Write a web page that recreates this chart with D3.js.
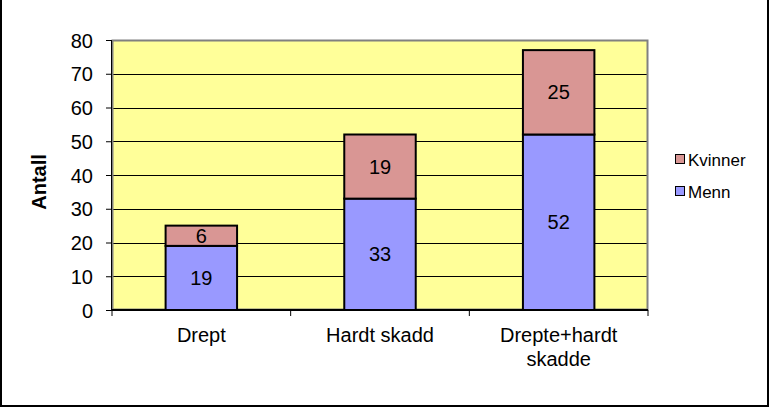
<!DOCTYPE html>
<html><head><meta charset="utf-8">
<script src="https://cdn.jsdelivr.net/npm/d3@7"></script>
<style>body{margin:0;background:#fff}svg{display:block}</style>
</head><body>
<script>
const categories = [["Drept"], ["Hardt skadd"], ["Drepte+hardt", "skadde"]];
const categoryKeys = ["Drept", "Hardt skadd", "Drepte+hardt skadde"];
const menn = [19, 33, 52];
const kvinner = [6, 19, 25];
const seriesNames = ["Menn", "Kvinner"];
const yTicks = [0, 10, 20, 30, 40, 50, 60, 70, 80];

const W = 769, H = 407;
const plot = {l: 112, t: 40, r: 648, b: 310};
const colors = {Menn: "#9999FF", Kvinner: "#D99694"};
const font = "Arial, 'Liberation Sans', sans-serif";
const fs = 20;

const svg = d3.select("body").append("svg").attr("width", W).attr("height", H);
svg.append("rect").attr("width", W).attr("height", H).attr("fill", "#fff");

const x = d3.scaleBand().domain(categoryKeys).range([plot.l, plot.r]).paddingInner(0.6).paddingOuter(0.3);
const y = d3.scaleLinear().domain([0, 80]).range([plot.b, plot.t]);

svg.append("rect").attr("x", plot.l).attr("y", plot.t).attr("width", plot.r - plot.l).attr("height", plot.b - plot.t)
  .attr("fill", "#FFFF99");

// gridlines
svg.append("g").selectAll("line").data(yTicks.filter(d => d > 0 && d < 80)).join("line")
  .attr("x1", plot.l).attr("x2", plot.r).attr("y1", d => Math.round(y(d)) + 0.5).attr("y2", d => Math.round(y(d)) + 0.5)
  .attr("stroke", "#000").attr("stroke-width", 1);

// plot border (gray)
svg.append("rect").attr("x", plot.l + 0.5).attr("y", plot.t + 0.5).attr("width", plot.r - plot.l - 1).attr("height", plot.b - plot.t - 1)
  .attr("fill", "none").attr("stroke", "#808080").attr("stroke-width", 2);

// stacked data
const data = categoryKeys.map((c, i) => ({cat: c, Menn: menn[i], Kvinner: kvinner[i]}));
const stack = d3.stack().keys(seriesNames)(data);

stack.forEach(s => {
  const g = svg.append("g");
  g.selectAll("rect").data(s).join("rect")
    .attr("x", d => x(d.data.cat)).attr("width", x.bandwidth())
    .attr("y", d => y(d[1])).attr("height", d => y(d[0]) - y(d[1]))
    .attr("fill", colors[s.key]).attr("stroke", "#000").attr("stroke-width", 2);
  g.selectAll("text").data(s).join("text")
    .attr("x", d => x(d.data.cat) + x.bandwidth() / 2)
    .attr("y", d => (y(d[0]) + y(d[1])) / 2 + 7)
    .attr("text-anchor", "middle").attr("font-family", font).attr("font-size", fs).attr("fill", "#000")
    .text(d => d[1] - d[0]);
});

// y axis
const yAxis = d3.axisLeft(y).tickValues(yTicks).tickSize(6).tickPadding(13);
const ya = svg.append("g").attr("transform", `translate(${plot.l},0)`).call(yAxis);
ya.select(".domain").attr("stroke", "#000").attr("stroke-width", 1).attr("d", `M-0.5,${plot.t}V${plot.b}`);
ya.selectAll(".tick line").attr("stroke", "#000");
ya.selectAll("text").attr("font-family", font).attr("font-size", fs).attr("fill", "#000").attr("dy", "0.35em");

// x axis
const xAxis = d3.axisBottom(x).tickSize(6).tickFormat(() => "");
const xa = svg.append("g").attr("transform", `translate(0,${plot.b})`).call(xAxis);
xa.select(".domain").attr("stroke", "#000").attr("stroke-width", 2).attr("d", `M${plot.l},0H${plot.r}`);
xa.selectAll(".tick").remove();
const sepTicks = d3.range(categoryKeys.length + 1).map(i => plot.l + i * (plot.r - plot.l) / categoryKeys.length);
xa.selectAll("line.sep").data(sepTicks).join("line").attr("class", "sep")
  .attr("x1", d => d).attr("x2", d => d).attr("y1", 0).attr("y2", 6).attr("stroke", "#000");

categoryKeys.forEach((c, i) => {
  const t = svg.append("text").attr("x", x(c) + x.bandwidth() / 2).attr("y", 342)
    .attr("text-anchor", "middle").attr("font-family", font).attr("font-size", fs).attr("fill", "#000");
  categories[i].forEach((line, j) => {
    t.append("tspan").attr("x", x(c) + x.bandwidth() / 2).attr("dy", j === 0 ? 0 : 24).text(line);
  });
});

// y label
svg.append("text").attr("transform", "translate(46,182) rotate(-90)").attr("text-anchor", "middle")
  .attr("font-family", font).attr("font-size", fs).attr("font-weight", "bold").attr("fill", "#000").text("Antall");

// legend
const legend = [{name: "Kvinner", y: 160}, {name: "Menn", y: 192}];
const lg = svg.append("g");
legend.forEach(l => {
  lg.append("rect").attr("x", 675.5).attr("y", l.y - 5.5).attr("width", 9).attr("height", 9)
    .attr("fill", colors[l.name]).attr("stroke", "#000").attr("stroke-width", 1);
  lg.append("text").attr("x", 688).attr("y", l.y + 6).attr("font-family", font).attr("font-size", 17).attr("fill", "#000").text(l.name);
});

// outer frame
svg.append("path").attr("d", `M1,0V${H - 1}H${W - 1}V0`).attr("fill", "none").attr("stroke", "#000").attr("stroke-width", 2);
</script>
</body></html>
